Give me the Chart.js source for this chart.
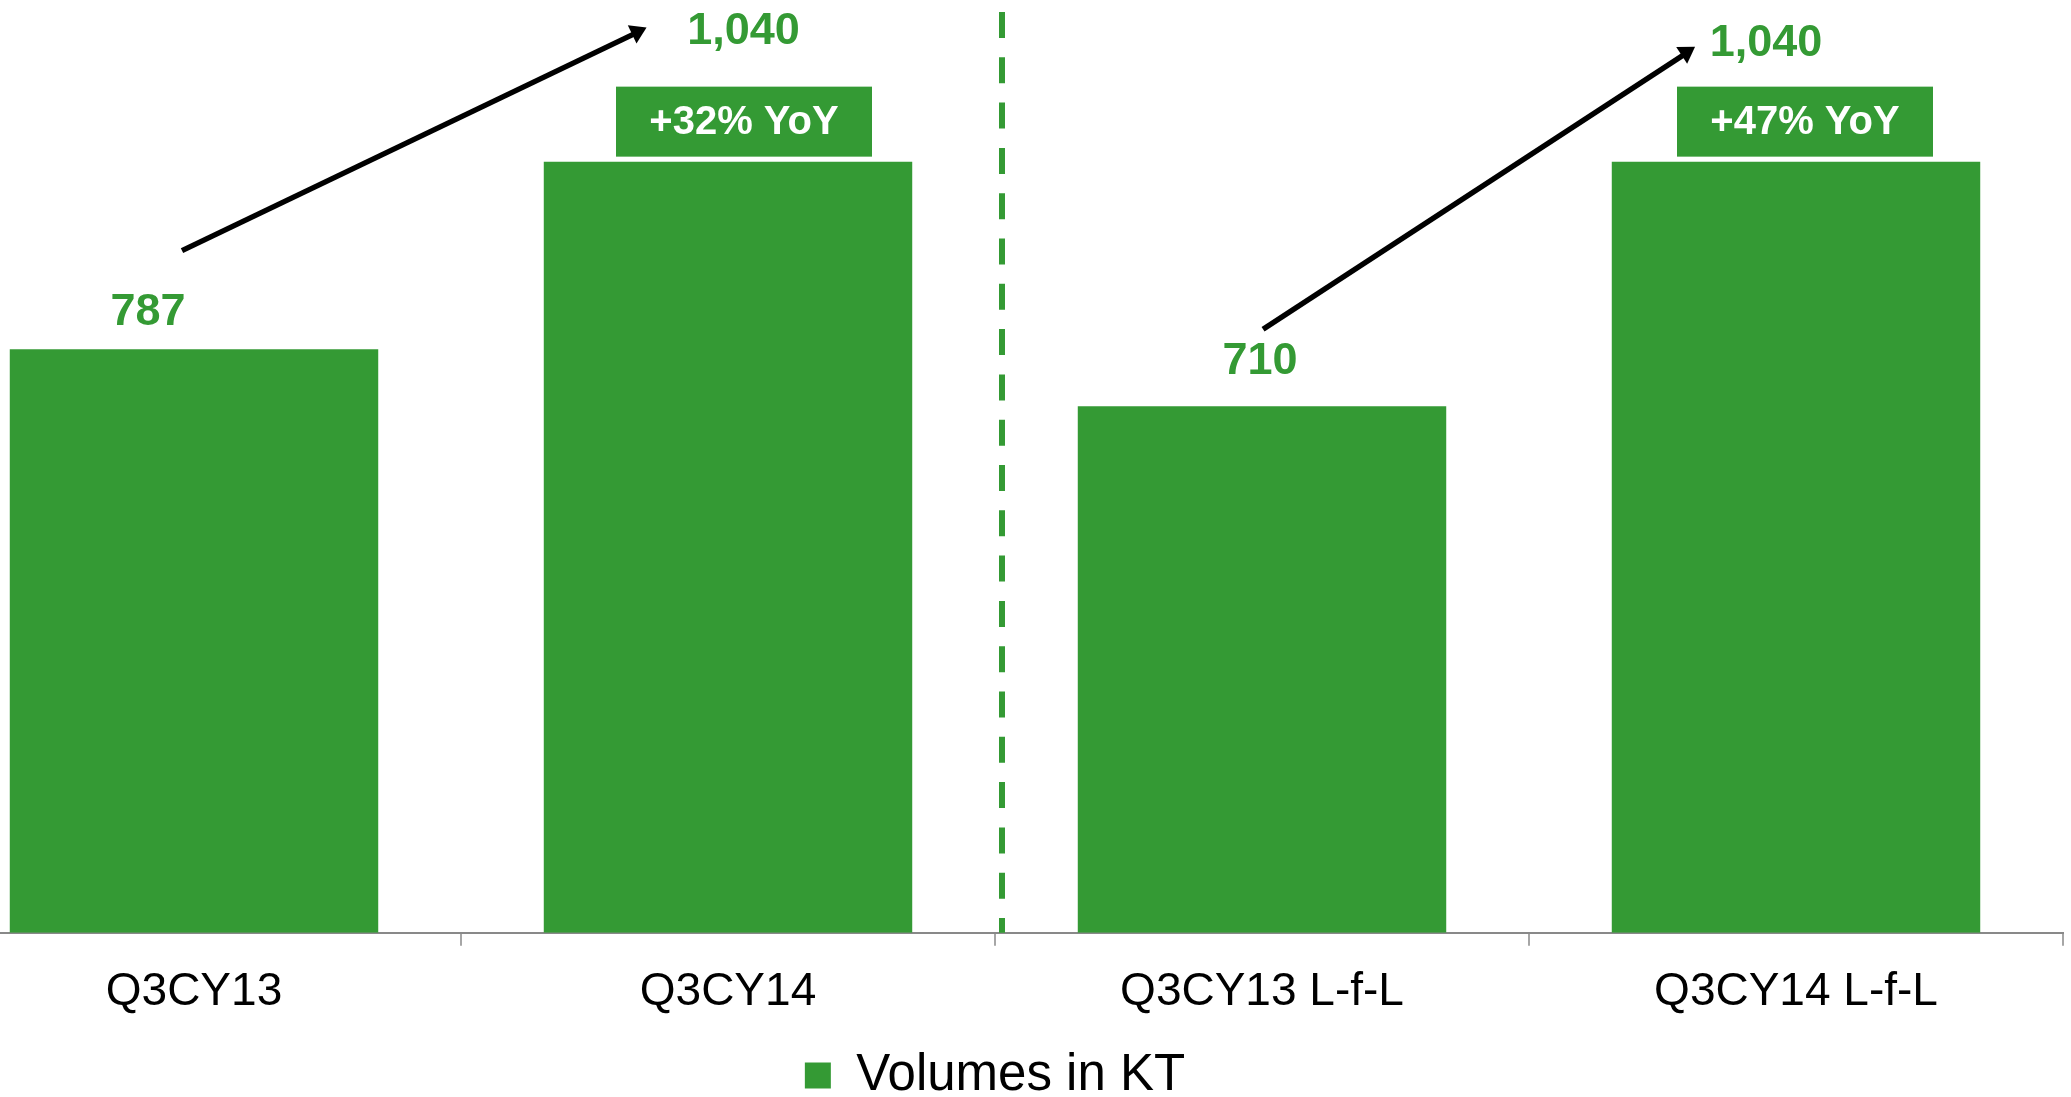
<!DOCTYPE html>
<html>
<head>
<meta charset="utf-8">
<script src="https://cdn.jsdelivr.net/npm/chart.js@4.4.1/dist/chart.umd.min.js"></script>
<style>
  html, body { margin: 0; padding: 0; background: #ffffff; width: 2071px; height: 1097px; overflow: hidden; }
  #wrap { position: absolute; left: -73px; top: 0; width: 2144px; height: 1111px; }
</style>
</head>
<body>
<div id="wrap"><canvas id="chart" width="2144" height="1111"></canvas></div>
<script>
// ---- data ----
const categories = ['Q3CY13', 'Q3CY14', 'Q3CY13 L-f-L', 'Q3CY14 L-f-L'];
const volumes = [787, 1040, 710, 1040];
const seriesName = 'Volumes in KT';
const growthLabels = ['+32% YoY', '+47% YoY'];
const growthBarIndex = [1, 3];

// ---- styling ----
const GREEN = '#349A34';
const FONT = '"Liberation Sans", Arial, sans-serif';

// value label placement relative to the top-centre of each bar (px)
const valueLabelOffsets = [[-46, -24], [15.5, -118], [-2, -32], [-30, -106]];
// YoY badges: horizontal offset of each badge centre from its bar centre
const badgeDx = [16, 9];
const badge = { gap: 5, w: 256, h: 70 };
// growth arrows, in axis units: [category position, volume]
const arrows = [
  { from: [-0.0225, 920], to: [0.8475, 1221] },
  { from: [2.002, 814],   to: [2.811, 1195] }
];
// separator between reported and like-for-like groups
const separator = { at: 1.5, dx: 7, topGap: 12, width: 6, dash: [26, 19.3] };

const annotations = {
  id: 'annotations',
  afterDatasetsDraw(chart) {
    const { ctx, chartArea, scales: { x, y } } = chart;
    const bars = chart.getDatasetMeta(0).data;
    ctx.save();

    // dashed separator
    const sx = x.getPixelForValue(separator.at) + separator.dx;
    ctx.strokeStyle = GREEN;
    ctx.lineWidth = separator.width;
    ctx.setLineDash(separator.dash);
    ctx.beginPath();
    ctx.moveTo(sx, chartArea.top + separator.topGap);
    ctx.lineTo(sx, chartArea.bottom);
    ctx.stroke();
    ctx.setLineDash([]);

    // value labels
    ctx.font = 'bold 45px ' + FONT;
    ctx.fillStyle = GREEN;
    ctx.textAlign = 'center';
    ctx.textBaseline = 'alphabetic';
    bars.forEach((bar, i) => {
      const [dx, dy] = valueLabelOffsets[i];
      ctx.fillText(volumes[i].toLocaleString('en-US'), bar.x + dx, bar.y + dy);
    });

    // YoY badges
    growthBarIndex.forEach((bi, k) => {
      const bar = bars[bi];
      const cx = bar.x + badgeDx[k];
      const bottom = bar.y - badge.gap;
      ctx.fillStyle = GREEN;
      ctx.fillRect(cx - badge.w / 2, bottom - badge.h, badge.w, badge.h);
      ctx.fillStyle = '#ffffff';
      ctx.font = 'bold 40px ' + FONT;
      ctx.textBaseline = 'middle';
      ctx.fillText(growthLabels[k], cx, bottom - badge.h / 2 + 1);
    });

    // growth arrows
    ctx.strokeStyle = '#000000';
    ctx.fillStyle = '#000000';
    ctx.lineWidth = 5.5;
    ctx.lineCap = 'butt';
    arrows.forEach(a => {
      const x1 = x.getPixelForValue(a.from[0]), y1 = y.getPixelForValue(a.from[1]);
      const x2 = x.getPixelForValue(a.to[0]),   y2 = y.getPixelForValue(a.to[1]);
      const ang = Math.atan2(y2 - y1, x2 - x1);
      const headLen = 16, headHalf = 10;
      const bx = x2 - headLen * Math.cos(ang), by = y2 - headLen * Math.sin(ang);
      ctx.beginPath();
      ctx.moveTo(x1, y1);
      ctx.lineTo(bx + 1, by);
      ctx.stroke();
      ctx.beginPath();
      ctx.moveTo(x2, y2);
      ctx.lineTo(bx + headHalf * Math.sin(ang), by - headHalf * Math.cos(ang));
      ctx.lineTo(bx - headHalf * Math.sin(ang), by + headHalf * Math.cos(ang));
      ctx.closePath();
      ctx.fill();
    });

    ctx.restore();
  }
};

new Chart(document.getElementById('chart'), {
  type: 'bar',
  data: {
    labels: categories,
    datasets: [{
      label: seriesName,
      data: volumes,
      backgroundColor: GREEN,
      borderWidth: 0,
      barPercentage: 0.69,
      categoryPercentage: 1
    }]
  },
  options: {
    responsive: false,
    animation: false,
    devicePixelRatio: 1,
    layout: { padding: { left: 0, right: 8, top: 0, bottom: 0 } },
    scales: {
      x: {
        grid: { display: true, drawOnChartArea: false, drawTicks: true, tickLength: 13, color: '#a6a6a6', lineWidth: 2, offset: true },
        border: { display: true, color: '#898989', width: 2 },
        ticks: { color: '#000000', font: { family: FONT, size: 46 }, padding: 19, maxRotation: 0, autoSkip: false }
      },
      y: { display: false, min: 0, max: 1258 }
    },
    plugins: {
      legend: {
        position: 'bottom',
        labels: { boxWidth: 26, boxHeight: 26, padding: 11, color: '#000000', font: { family: FONT, size: 51 } }
      },
      tooltip: { enabled: false }
    }
  },
  plugins: [annotations]
});
</script>
</body>
</html>
